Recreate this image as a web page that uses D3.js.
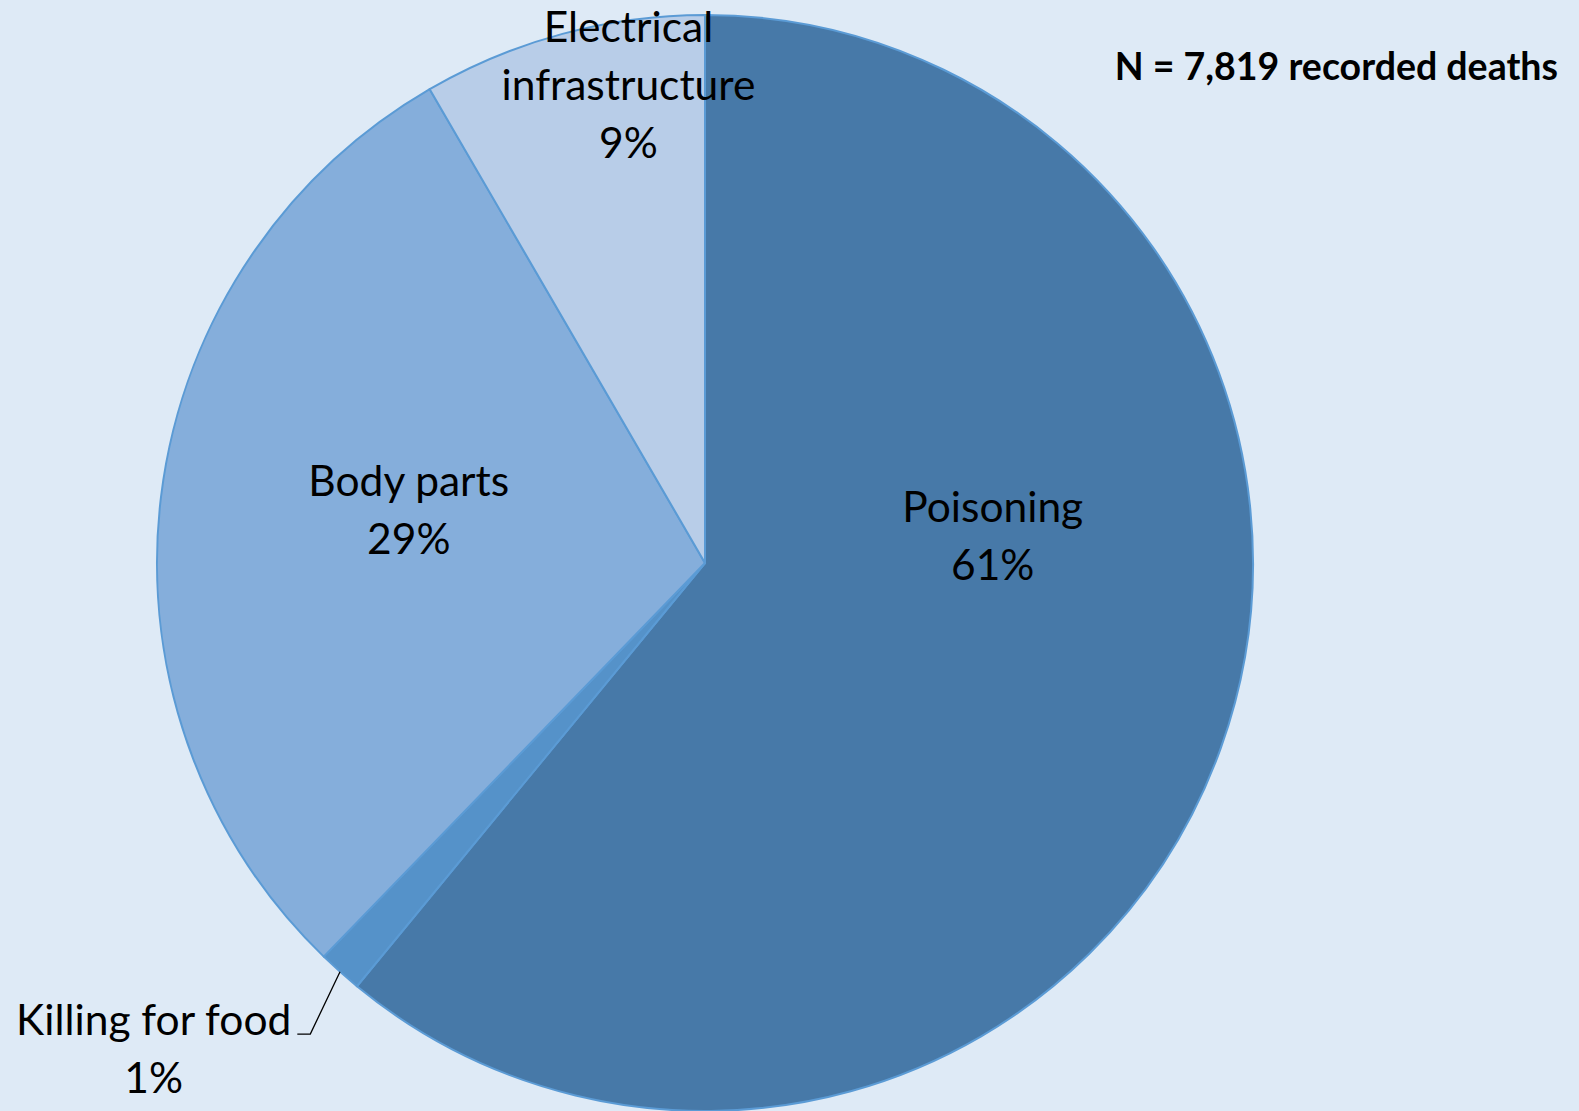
<!DOCTYPE html>
<html>
<head>
<meta charset="utf-8">
<script src="https://cdn.jsdelivr.net/npm/d3@7/dist/d3.min.js"></script>
<style>
    html, body { margin: 0; padding: 0; background: #deeaf6; }
    svg { display: block; }
    text { font-family: Lato, "Open Sans", sans-serif; fill: #000; }
</style>
</head>
<body>
<svg id="chart"></svg>
<script>
// causes of recorded deaths, clockwise from 12 o'clock
const causes = ["Poisoning", "Killing for food", "Body parts", "Electrical infrastructure"];
const deaths = [4766, 101, 2297, 655];
const percentLabels = ["61%", "1%", "29%", "9%"];
const labelLines = [["Poisoning"], ["Killing for food"], ["Body parts"], ["Electrical", "infrastructure"]];
const totalLabel = "N = 7,819 recorded deaths";

const width = 1579,
    height = 1111;

const cx = 705,
    cy = 563,
    radius = 548;

const color = d3
    .scaleOrdinal()
    .domain(causes)
    .range(["#4779a8", "#5592c9", "#85aedb", "#b8cde8"]);

// where each label sits: angle (deg, clockwise from top) and distance from centre
const labelPlace = [
    { angle: 84.7, r: 289 },
    { angle: 228.6, r: 735, outside: true },
    { angle: 280.2, r: 301 },
    { angle: 350.9, r: 484 }
];

const lineHeight = 58;

const svg = d3
    .select("#chart")
    .attr("width", width)
    .attr("height", height);

svg.append("rect")
    .attr("width", width)
    .attr("height", height)
    .attr("fill", "#deeaf6");

const g = svg.append("g").attr("transform", `translate(${cx},${cy})`);

const pie = d3.pie().sort(null).value(d => d.value);
const arcs = pie(causes.map((c, i) => ({ name: c, value: deaths[i], i: i })));

const arc = d3.arc().innerRadius(0).outerRadius(radius);

g.selectAll("path.slice")
    .data(arcs)
    .enter()
    .append("path")
    .attr("class", "slice")
    .attr("d", arc)
    .attr("fill", d => color(d.data.name))
    .attr("stroke", "#5b9bd5")
    .attr("stroke-width", 2)
    .attr("stroke-linejoin", "round");

//labels
arcs.forEach(function(d, i) {
    const place = labelPlace[i];
    const p = d3.pointRadial((place.angle * Math.PI) / 180, place.r);
    const lines = labelLines[i].concat([percentLabels[i]]);
    const t = g.append("text")
        .attr("text-anchor", "middle")
        .style("font-size", "42.5px");
    lines.forEach(function(line, j) {
        t.append("tspan")
            .attr("x", p[0])
            .attr("y", p[1] + (j - (lines.length - 1) / 2) * lineHeight)
            .attr("dy", "0.35em")
            .text(line);
    });

    if (place.outside) {
        // leader line from the slice edge to the first line of text
        const mid = (d.startAngle + d.endAngle) / 2;
        const edge = d3.pointRadial(mid, radius);
        const box = t.select("tspan").node().getBBox();
        const baseY = p[1] - ((lines.length - 1) / 2) * lineHeight + 14;
        const x0 = box.x + box.width + 6;
        g.append("polyline")
            .attr("points", [edge, [x0 + 13, baseY], [x0, baseY]].map(q => q.join(",")).join(" "))
            .attr("fill", "none")
            .attr("stroke", "#000")
            .attr("stroke-width", 1.3);
    }
});

svg.append("text")
    .attr("x", 1558)
    .attr("y", 80)
    .attr("text-anchor", "end")
    .style("font-size", "37.5px")
    .style("font-weight", "bold")
    .text(totalLabel);
</script>
</body>
</html>
